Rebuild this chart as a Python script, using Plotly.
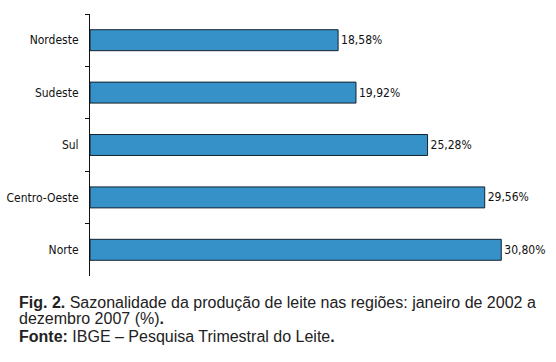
import plotly.graph_objects as go

regions = ["Nordeste", "Sudeste", "Sul", "Centro-Oeste", "Norte"]
values = [18.58, 19.92, 25.28, 29.56, 30.80]
value_labels = [f"{v:.2f}".replace(".", ",") + "%" for v in values]

caption_line1 = "<b>Fig. 2.</b> Sazonalidade da produção de leite nas regiões: janeiro de 2002 a"
caption_line2 = "dezembro 2007 (%)<b>.</b>"
caption_line3 = "<b>Fonte:</b> IBGE – Pesquisa Trimestral do Leite<b>.</b>"

W, H = 556, 362
ml, mr, mt, mb = 90, 12, 14, 86
pw = W - ml - mr
ph = H - mt - mb

cond_font = "DejaVu Sans Condensed, Liberation Sans Narrow, Arial Narrow, sans-serif"

fig = go.Figure(go.Bar(
    y=regions, x=values, orientation="h",
    marker=dict(color="#3591C8", line=dict(color="#15232e", width=1)),
    width=0.4,
    text=value_labels, textposition="outside",
    textfont=dict(family=cond_font, size=12, color="#111"),
    cliponaxis=False,
))

fig.update_layout(
    width=W, height=H,
    margin=dict(l=ml, r=mr, t=mt, b=mb, autoexpand=False),
    paper_bgcolor="white", plot_bgcolor="white",
    showlegend=False,
    xaxis=dict(range=[0, 34], visible=False, fixedrange=True, automargin=False),
    yaxis=dict(
        categoryorder="array", categoryarray=regions,
        range=[4.5, -0.5], automargin=False,
        showline=True, linecolor="#111", linewidth=1,
        ticks="outside", ticklen=4, tickcolor="#111", tickwidth=1,
        tickson="boundaries",
        showgrid=False, zeroline=False,
        ticklabelstandoff=8,
        tickfont=dict(family=cond_font, size=12, color="#111"),
    ),
)

cap_font = dict(family="Liberation Sans, Arial, sans-serif", size=16, color="#222")
for text, py in [(caption_line1, 302), (caption_line2, 319), (caption_line3, 336)]:
    fig.add_annotation(
        text=text, xref="paper", yref="paper",
        x=(17 - ml) / pw, y=(H - mb - py) / ph,
        xanchor="left", yanchor="middle", showarrow=False,
        font=cap_font, align="left",
    )

fig.write_html(
    "out.html",
    config={"displayModeBar": False, "staticPlot": True},
    post_script="document.body.style.margin='0';document.body.style.padding='0';",
)
